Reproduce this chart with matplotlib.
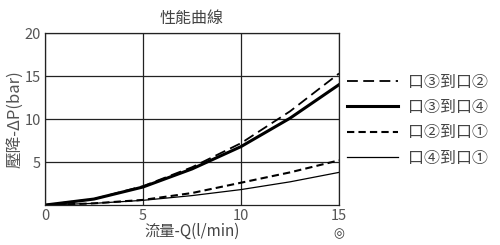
import matplotlib.pyplot as plt
import numpy as np

plt.rcParams['font.family'] = ['Noto Sans CJK TC', 'DejaVu Sans']

# Flow rate (l/min) and pressure drop (bar)
flow = [0, 2.5, 5, 7.5, 10, 12.5, 15]
p_3to2 = [0, 0.7, 2.2, 4.4, 7.2, 10.9, 15.3]
p_3to4 = [0, 0.7, 2.1, 4.2, 6.8, 10.1, 14.0]
p_2to1 = [0, 0.2, 0.6, 1.4, 2.6, 3.8, 5.2]
p_4to1 = [0, 0.2, 0.55, 1.1, 1.8, 2.7, 3.8]

labels = ['口③到口②', '口③到口④', '口②到口①', '口④到口①']
xticks = [0, 5, 10, 15]
yticks = [5, 10, 15, 20]

fig = plt.figure(figsize=(5, 2.45), dpi=100)
ax = fig.add_axes([0.09, 0.163, 0.588, 0.702])

ax.plot(flow, p_3to2, color='black', lw=1.3, dashes=(6, 3), label=labels[0])
ax.plot(flow, p_3to4, color='black', lw=2.2, label=labels[1])
ax.plot(flow, p_2to1, color='black', lw=1.5, dashes=(3.5, 2), label=labels[2])
ax.plot(flow, p_4to1, color='black', lw=0.9, label=labels[3])

ax.set_xlim(0, 15)
ax.set_ylim(0, 20)
ax.set_xticks(xticks)
ax.set_yticks(yticks)
ax.grid(True, color='#222222', lw=0.9)
for s in ax.spines.values():
    s.set_color('#222222')
    s.set_linewidth(0.9)
ax.tick_params(length=0, labelsize=10.5, labelcolor='#555555', pad=3)

ax.set_title('性能曲線', fontsize=11.5, color='#444444', pad=7)
ax.set_xlabel('流量-Q(l/min)', fontsize=11, color='#444444', labelpad=0)
ax.set_ylabel('壓降-ΔP(bar)', fontsize=12, color='#555555', labelpad=1)
ax.text(1.0, -0.13, '◎', transform=ax.transAxes, ha='center', va='top',
        fontsize=9, color='#333333', family=['DejaVu Sans'])

ax.legend(loc='upper left', bbox_to_anchor=(1.0, 0.81), frameon=False,
          handlelength=3.2, fontsize=11.5, labelspacing=0.52,
          handletextpad=0.6, borderpad=0.2, borderaxespad=0.3,
          labelcolor='#444444')

fig.savefig('out.png', dpi=100)
